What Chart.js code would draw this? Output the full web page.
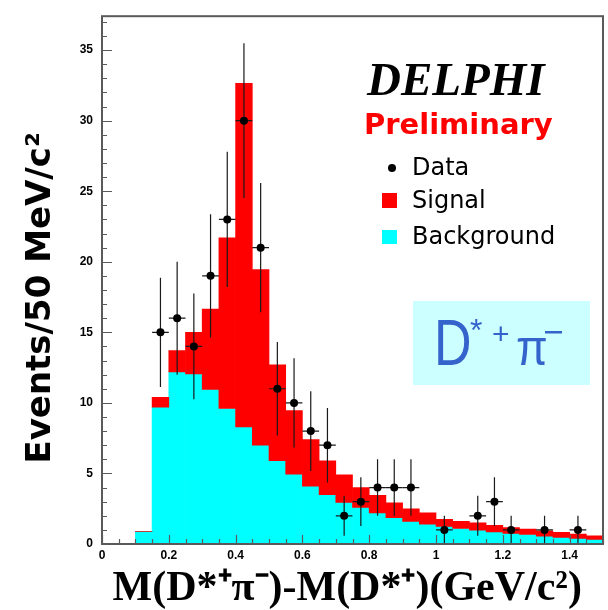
<!DOCTYPE html>
<html>
<head>
<meta charset="utf-8">
<script src="https://cdn.jsdelivr.net/npm/chart.js@4/dist/chart.umd.min.js"></script>
<style>
html,body{margin:0;padding:0;background:#fff;}
#wrap{width:608px;height:610px;position:relative;}
</style>
</head>
<body>
<div id="wrap"><canvas id="c" width="608" height="610"></canvas></div>
<script>
// ---- data ----
const binWidth = 0.05;
const binCenters = [0.125,0.175,0.225,0.275,0.325,0.375,0.425,0.475,0.525,0.575,0.625,0.675,0.725,0.775,
                    0.825,0.875,0.925,0.975,1.025,1.075,1.125,1.175,1.225,1.275,1.325,1.375,1.425,1.475];
const backgroundValues = [0.9,9.7,12.2,12.05,10.95,9.6,8.3,7.0,5.9,4.95,4.1,3.5,2.95,2.6,
                          2.2,1.87,1.6,1.4,1.25,1.1,0.98,0.86,0.75,0.67,0.56,0.47,0.4,0.33];
const signalValues = [0,0.7,1.5,2.95,5.7,12.1,24.35,12.45,6.8,4.5,3.3,2.4,1.95,1.4,
                      1.25,1.05,0.9,0.8,0.5,0.5,0.52,0.47,0.42,0.38,0.37,0.35,0.30,0.25];
const dataCounts = [null,15,16,14,19,23,30,21,11,10,8,7,2,3,
                    4,4,4,null,1,null,2,3,1,null,1,null,1,null];
const xTickLabels = ['0','0.2','0.4','0.6','0.8','1','1.2','1.4'];
const yTickLabels = ['0','5','10','15','20','25','30','35'];
const xMinorStep = 0.05, yMinorStep = 1;
const xMax = 1.5, yMax = 37.4;

// ---- tables built from the arrays ----
const bgData = binCenters.map((c,i)=>({x:c, y:backgroundValues[i]}));
const sigData = binCenters.map((c,i)=>({x:c, y:[backgroundValues[i], backgroundValues[i]+signalValues[i]]}));
const ptData = binCenters.map((c,i)=>({x:c, y:dataCounts[i]})).filter(p=>p.y!==null);

const RED = '#ff0000', CYAN = '#00ffff', AXIS = '#5a5a5a';

const errorBars = {
  id:'errorBars',
  beforeDatasetDraw(chart, args){
    if (args.index !== 0) return;
    const {ctx, scales:{x,y}} = chart;
    ctx.save();
    ctx.strokeStyle = '#1a1a1a';
    ctx.lineWidth = 1.2;
    binCenters.forEach((c,i)=>{
      const n = dataCounts[i];
      if (n === null) return;
      const e = Math.sqrt(n);
      const px = x.getPixelForValue(c), py = y.getPixelForValue(n);
      ctx.beginPath();
      ctx.moveTo(px, y.getPixelForValue(Math.max(0,n-e)));
      ctx.lineTo(px, y.getPixelForValue(n+e));
      ctx.moveTo(x.getPixelForValue(c-binWidth/2), py);
      ctx.lineTo(x.getPixelForValue(c+binWidth/2), py);
      ctx.stroke();
    });
    ctx.restore();
  }
};

const frame = {
  id:'frame',
  afterDraw(chart){
    const {ctx, chartArea:a, scales:{x,y}} = chart;
    ctx.save();
    ctx.strokeStyle = AXIS;
    ctx.lineWidth = 1.2;
    ctx.beginPath();
    for (let k=0; k*xMinorStep <= xMax+1e-9; k++){
      const v = k*xMinorStep;
      const px = Math.round(x.getPixelForValue(v))+0.5;
      const major = xTickLabels.some(l=>Math.abs(parseFloat(l)-v)<1e-9);
      ctx.moveTo(px, a.bottom); ctx.lineTo(px, a.bottom-(major?9:5));
    }
    for (let k=0; k*yMinorStep <= yMax; k++){
      const v = k*yMinorStep;
      const py = Math.round(y.getPixelForValue(v))+0.5;
      const major = yTickLabels.some(l=>Math.abs(parseFloat(l)-v)<1e-9);
      ctx.moveTo(a.left, py); ctx.lineTo(a.left+(major?10:5), py);
    }
    ctx.stroke();
    ctx.lineWidth = 2;
    ctx.strokeRect(a.left, a.top, a.right-a.left, a.bottom-a.top);
    ctx.restore();

    // annotations
    ctx.save();
    ctx.textBaseline = 'alphabetic';
    ctx.textAlign = 'left';
    ctx.fillStyle = '#000';
    ctx.font = 'italic bold 47px "Liberation Serif"';
    ctx.fillText('DELPHI', 367, 95);
    ctx.fillStyle = RED;
    ctx.font = 'bold 29px "DejaVu Sans"';
    ctx.fillText('Preliminary', 364, 134);
    const ds = chart.data.datasets;
    ctx.font = '24px "DejaVu Sans"';
    ctx.fillStyle = '#000';
    ctx.beginPath(); ctx.arc(392, 168, 4, 0, Math.PI*2); ctx.fill();
    ctx.fillText(ds[0].label, 412, 175);
    ctx.fillStyle = RED; ctx.fillRect(382, 193, 15, 15);
    ctx.fillStyle = '#000'; ctx.fillText(ds[1].label, 412, 208);
    ctx.fillStyle = CYAN; ctx.fillRect(382, 230, 15, 14);
    ctx.fillStyle = '#000'; ctx.fillText(ds[2].label, 412, 244);

    // D*+ pi- box
    ctx.fillStyle = '#ccffff';
    ctx.fillRect(413, 301, 177, 84);
    ctx.fillStyle = '#3563cc';
    ctx.save(); ctx.translate(434, 365); ctx.scale(1, 1.25);
    ctx.font = '52px "Liberation Sans"';
    ctx.fillText('D', 0, 0);
    ctx.restore();
    ctx.font = '32px "Liberation Sans"';
    ctx.fillText('*', 470, 341);
    ctx.font = '30px "Liberation Sans"';
    ctx.fillText('+', 492, 344);
    ctx.save(); ctx.translate(516, 365); ctx.scale(1, 1.1);
    ctx.font = '46px "Liberation Sans"';
    ctx.fillText('\u03c0', 0, 0);
    ctx.restore();
    ctx.fillRect(545, 331, 17, 2.5);
    ctx.restore();
  }
};

new Chart(document.getElementById('c'), {
  data: {
    datasets: [
      { type:'scatter', label:'Data', data: ptData, order:0,
        pointRadius:4, pointHoverRadius:4, pointBackgroundColor:'#000', pointBorderWidth:0, showLine:false },
      { type:'bar', label:'Signal', data: sigData, order:1,
        backgroundColor: RED, borderWidth:0, grouped:false, barPercentage:1, categoryPercentage:1 },
      { type:'bar', label:'Background', data: bgData, order:2,
        backgroundColor: CYAN, borderWidth:0, grouped:false, barPercentage:1, categoryPercentage:1 }
    ]
  },
  options: {
    responsive:false,
    animation:false,
    devicePixelRatio:1,
    layout:{ padding:{ left:0, top:10, right:5, bottom:0 } },
    plugins:{ legend:{display:false}, tooltip:{enabled:false} },
    scales:{
      x:{
        type:'linear', min:0, max:xMax, offset:false,
        grid:{ display:false, drawTicks:false },
        border:{ display:false },
        afterBuildTicks(s){ s.ticks = xTickLabels.map(l=>({value:parseFloat(l)})); },
        afterFit(s){ s.height = 66; },
        ticks:{ padding:4, maxRotation:0, autoSkip:false, color:'#000',
                font:{ family:'"Liberation Sans"', weight:'bold', size:12 },
                callback(v){ const l = xTickLabels.find(t=>Math.abs(parseFloat(t)-v)<1e-9); return l ?? ''; } },
        title:{ display:true, text:'M(D*\u207a\u03c0\u207b)-M(D*\u207a)(GeV/c\u00b2)\u00a0', color:'#000',
                font:{ family:'"Liberation Serif"', weight:'bold', size:42, lineHeight:1 },
                padding:{ top:0, bottom:0 } }
      },
      y:{
        type:'linear', min:0, max:yMax,
        grid:{ display:false, drawTicks:false },
        border:{ display:false },
        afterBuildTicks(s){ s.ticks = yTickLabels.map(l=>({value:parseFloat(l)})); },
        afterFit(s){ s.width = 102; },
        ticks:{ padding:9, autoSkip:false, color:'#000',
                font:{ family:'"Liberation Sans"', weight:'bold', size:12 },
                callback(v){ const l = yTickLabels.find(t=>Math.abs(parseFloat(t)-v)<1e-9); return l ?? ''; } },
        title:{ display:true, text:'Events/50 MeV/c\u00b2\u00a0\u00a0\u00a0', color:'#000',
                font:{ family:'"DejaVu Sans"', weight:'bold', size:34, lineHeight:1 },
                padding:{ top:24, bottom:0 } }
      }
    }
  },
  plugins:[errorBars, frame]
});
</script>
</body>
</html>
